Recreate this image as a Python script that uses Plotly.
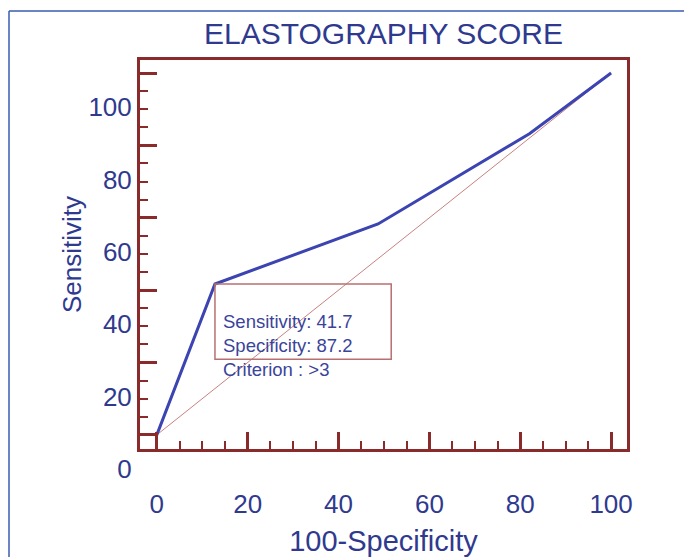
import plotly.graph_objects as go

# ---- data ----
fpr = [0, 12.8, 48.7, 82.1, 100]          # 100-Specificity
tpr = [0, 41.7, 58.3, 83.3, 100]          # Sensitivity
diag_x = [0, 100]
diag_y = [0, 100]
tick_vals = [0, 20, 40, 60, 80, 100]
tick_text = ["0", "20", "40", "60", "80", "100"]
sens_txt = "Sensitivity: 41.7"
spec_txt = "Specificity: 87.2"
crit_txt = "Criterion : >3"
cut_index = 1

NAVY = "#2f3a8f"
BOX = "#8b2a2a"
FONT = "Liberation Sans, Arial, sans-serif"

OFF = 8  # page body margin
W, H = 692 - OFF, 557 - OFF
# page-pixel positions of the plot box
BL, BR, BT, BB = 140, 627, 60, 449
L, T = BL - OFF, BT - OFF
R = W - (BR - OFF)
B = H - (BB - OFF)
pw, ph = W - L - R, H - T - B

def px2paper_x(px):
    return (px - BL) / pw

def px2paper_y(py):
    return (BB - py) / ph

fig = go.Figure()
fig.add_trace(go.Scatter(x=diag_x, y=diag_y, mode="lines",
                         line=dict(color="#c98080", width=1), hoverinfo="skip"))
fig.add_trace(go.Scatter(x=fpr, y=tpr, mode="lines",
                         line=dict(color="#3b44b0", width=3), hoverinfo="skip"))

cx, cy = fpr[cut_index], tpr[cut_index]
fig.add_shape(type="rect", x0=cx, x1=cx + 38.8, y0=cy - 20.8, y1=cy,
              xref="x", yref="y", line=dict(color="#b87070", width=1.5))
fig.add_annotation(x=cx, y=cy, xref="x", yref="y", xanchor="left", yanchor="top",
                   xshift=6, yshift=-25, showarrow=False, align="left",
                   text=sens_txt + "<br>" + spec_txt + "<br>" + crit_txt,
                   font=dict(family=FONT, size=18.5, color="#3a449a"))

# outer frame
fr = dict(color="#3a5cb0", width=1.5)
fig.add_shape(type="line", xref="paper", yref="paper",
              x0=px2paper_x(9), x1=px2paper_x(9), y0=px2paper_y(11), y1=px2paper_y(570), line=fr)
fig.add_shape(type="line", xref="paper", yref="paper",
              x0=px2paper_x(9), x1=px2paper_x(710), y0=px2paper_y(11), y1=px2paper_y(11), line=fr)

axis_common = dict(
    showgrid=False, zeroline=False, showline=True, mirror=True,
    linecolor=BOX, linewidth=3, automargin=False,
    ticks="inside", ticklen=17, tickwidth=3, tickcolor=BOX,
    tickmode="array", tickvals=tick_vals, ticktext=tick_text,
    tickfont=dict(family=FONT, size=26, color=NAVY),
    minor=dict(dtick=5, tick0=0, ticks="inside", ticklen=8, tickwidth=2, tickcolor=BOX),
)

fig.update_layout(
    width=W, height=H, autosize=False,
    margin=dict(l=L, r=R, t=T, b=B, autoexpand=False),
    paper_bgcolor="white", plot_bgcolor="white",
    showlegend=False,
    title=dict(text="ELASTOGRAPHY SCORE", x=0.5, xref="paper", xanchor="center",
               y=1 - (33 - OFF) / H, yref="container", yanchor="middle",
               font=dict(family=FONT, size=30, color=NAVY)),
    xaxis=dict(range=[-3.7, 103.5], ticklabelstandoff=30,
               title=dict(text="100-Specificity", standoff=26,
                          font=dict(family=FONT, size=29, color=NAVY)),
               **axis_common),
    yaxis=dict(range=[-3.9, 103.6], ticklabelshift=34, ticklabelstandoff=0,
               title=dict(text="Sensitivity", standoff=0,
                          font=dict(family=FONT, size=26, color=NAVY)),
               **axis_common),
)

fig.write_html("out.html")
